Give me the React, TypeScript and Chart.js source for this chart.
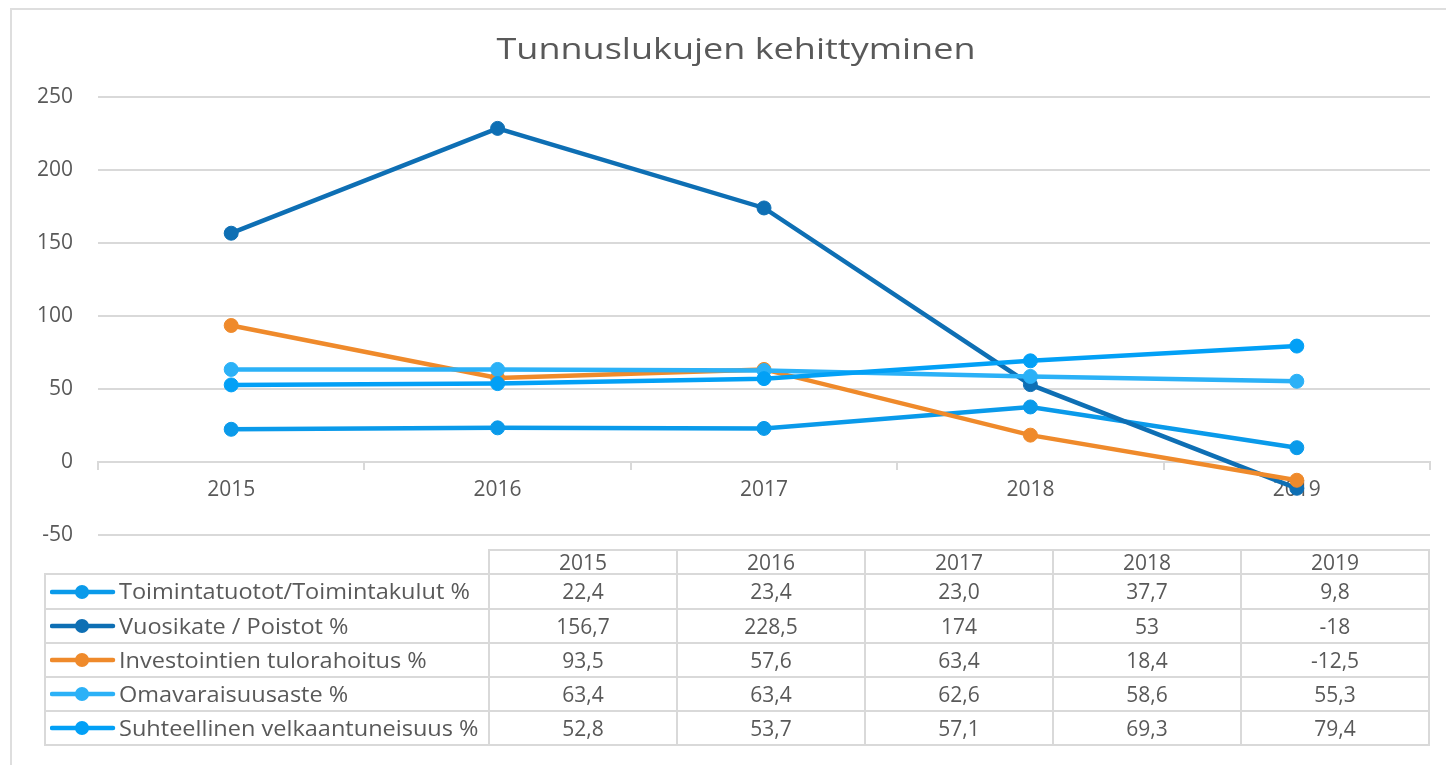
import React, { useEffect, useRef } from "react";
import { Chart, registerables } from "chart.js";

Chart.register(...registerables);

const TITLE = "Tunnuslukujen kehittyminen";
const YEARS = ["2015", "2016", "2017", "2018", "2019"];

const SERIES_NAMES = [
  "Toimintatuotot/Toimintakulut %",
  "Vuosikate / Poistot %",
  "Investointien tulorahoitus %",
  "Omavaraisuusaste %",
  "Suhteellinen velkaantuneisuus %",
];
const SERIES_COLORS = ["#0a9aea", "#0e6fb4", "#ef8a2b", "#2bb1f7", "#02a0f6"];

const toimintatuotot = [22.4, 23.4, 23.0, 37.7, 9.8];
const vuosikate = [156.7, 228.5, 174, 53, -18];
const investoinnit = [93.5, 57.6, 63.4, 18.4, -12.5];
const omavaraisuus = [63.4, 63.4, 62.6, 58.6, 55.3];
const velkaantuneisuus = [52.8, 53.7, 57.1, 69.3, 79.4];

const TABLE_TEXT = [
  ["22,4", "23,4", "23,0", "37,7", "9,8"],
  ["156,7", "228,5", "174", "53", "-18"],
  ["93,5", "57,6", "63,4", "18,4", "-12,5"],
  ["63,4", "63,4", "62,6", "58,6", "55,3"],
  ["52,8", "53,7", "57,1", "69,3", "79,4"],
];

const Y_MIN = -50;
const Y_MAX = 250;
const Y_STEP = 50;

const SERIES_VALUES = [toimintatuotot, vuosikate, investoinnit, omavaraisuus, velkaantuneisuus];

const GRID = "#d9d9d9";
const TEXT = "#595959";

export default function App() {
  const canvasRef = useRef<HTMLCanvasElement | null>(null);

  useEffect(() => {
    const canvas = canvasRef.current;
    if (!canvas) return;
    const n = SERIES_NAMES.length;
    const chart = new Chart(canvas, {
      type: "line",
      data: {
        labels: YEARS,
        datasets: SERIES_NAMES.map((name, i) => ({
          label: name,
          data: SERIES_VALUES[i],
          borderColor: SERIES_COLORS[i],
          backgroundColor: SERIES_COLORS[i],
          pointBackgroundColor: SERIES_COLORS[i],
          pointBorderColor: SERIES_COLORS[i],
          pointBorderWidth: 1,
          pointRadius: 7,
          borderWidth: 4.5,
          tension: 0,
          fill: false,
          order: n - i,
        })),
      },
      options: {
        responsive: false,
        animation: false,
        events: [],
        layout: { padding: { left: 0, right: 16, top: 97, bottom: 230 } },
        plugins: {
          legend: { display: false },
          tooltip: { enabled: false },
          title: { display: false },
        },
        scales: {
          x: {
            type: "category",
            offset: true,
            position: { y: 0 } as any,
            grid: {
              drawOnChartArea: false,
              drawTicks: true,
              offset: true,
              tickLength: 7,
              color: GRID,
              lineWidth: 2,
            },
            border: { display: true, color: GRID, width: 2 },
            ticks: {
              color: TEXT,
              font: { family: "'Open Sans', sans-serif", size: 21 },
              padding: 8,
              maxRotation: 0,
            },
          },
          y: {
            min: Y_MIN,
            max: Y_MAX,
            ticks: {
              stepSize: Y_STEP,
              color: TEXT,
              font: { family: "'Open Sans', sans-serif", size: 21 },
              padding: 25,
            },
            grid: { color: GRID, lineWidth: 2, drawTicks: false },
            border: { display: false },
            afterFit: (scale: any) => {
              scale.width = 98;
            },
          },
        },
      },
    });
    return () => chart.destroy();
  }, []);

  const hLines = [
    { y: 550, x1: 489, x2: 1429 },
    { y: 574, x1: 45, x2: 1429 },
    { y: 609, x1: 45, x2: 1429 },
    { y: 643, x1: 45, x2: 1429 },
    { y: 677, x1: 45, x2: 1429 },
    { y: 711, x1: 45, x2: 1429 },
    { y: 745, x1: 45, x2: 1429 },
  ];
  const vLines = [
    { x: 45, y1: 574, y2: 745 },
    { x: 489, y1: 550, y2: 745 },
    { x: 677, y1: 550, y2: 745 },
    { x: 865, y1: 550, y2: 745 },
    { x: 1053, y1: 550, y2: 745 },
    { x: 1241, y1: 550, y2: 745 },
    { x: 1429, y1: 550, y2: 745 },
  ];
  const colX = [489, 677, 865, 1053, 1241, 1429];
  const rowY = [574, 609, 643, 677, 711, 745];

  return (
    <div
      style={{
        position: "absolute",
        left: 0,
        top: 0,
        width: 1446,
        height: 765,
        overflow: "hidden",
        background: "#ffffff",
        fontFamily: "'Open Sans', sans-serif",
        color: TEXT,
      }}
    >
      <div
        style={{
          position: "absolute",
          left: 10,
          top: 8,
          width: 1460,
          height: 800,
          border: "2px solid #dedede",
          boxSizing: "border-box",
        }}
      />
      <canvas
        ref={canvasRef}
        width={1446}
        height={765}
        style={{ position: "absolute", left: 0, top: 0, width: 1446, height: 765 }}
      />
      <div
        style={{
          position: "absolute",
          left: 0,
          top: 28,
          width: 1472,
          textAlign: "center",
          fontSize: 30,
          lineHeight: "40px",
          whiteSpace: "nowrap",
          transform: "scaleX(1.2)",
          transformOrigin: "736px 0",
        }}
      >
        {TITLE}
      </div>
      {hLines.map((l, i) => (
        <div
          key={"h" + i}
          style={{
            position: "absolute",
            left: l.x1 - 1,
            top: l.y - 1,
            width: l.x2 - l.x1 + 2,
            height: 2,
            background: GRID,
          }}
        />
      ))}
      {vLines.map((l, i) => (
        <div
          key={"v" + i}
          style={{
            position: "absolute",
            left: l.x - 1,
            top: l.y1 - 1,
            width: 2,
            height: l.y2 - l.y1 + 2,
            background: GRID,
          }}
        />
      ))}
      {YEARS.map((yr, c) => (
        <div
          key={"hdr" + c}
          style={{
            position: "absolute",
            left: colX[c],
            top: 550,
            width: colX[c + 1] - colX[c],
            height: 24,
            lineHeight: "24px",
            textAlign: "center",
            fontSize: 21,
          }}
        >
          {yr}
        </div>
      ))}
      {SERIES_NAMES.map((name, r) => (
        <React.Fragment key={"row" + r}>
          <svg
            style={{ position: "absolute", left: 50, top: rowY[r] + (rowY[r + 1] - rowY[r]) / 2 - 8 }}
            width={66}
            height={16}
          >
            <line x1={2} y1={8} x2={63} y2={8} stroke={SERIES_COLORS[r]} strokeWidth={4.5} strokeLinecap="round" />
            <circle cx={32} cy={8} r={7} fill={SERIES_COLORS[r]} />
          </svg>
          <div
            style={{
              position: "absolute",
              left: 119,
              top: rowY[r],
              height: rowY[r + 1] - rowY[r],
              lineHeight: rowY[r + 1] - rowY[r] + "px",
              fontSize: 21,
              whiteSpace: "nowrap",
              transform: "scaleX(1.12)",
              transformOrigin: "0 0",
            }}
          >
            {name}
          </div>
          {TABLE_TEXT[r].map((v, c) => (
            <div
              key={"c" + r + "_" + c}
              style={{
                position: "absolute",
                left: colX[c],
                top: rowY[r],
                width: colX[c + 1] - colX[c],
                height: rowY[r + 1] - rowY[r],
                lineHeight: rowY[r + 1] - rowY[r] + "px",
                textAlign: "center",
                fontSize: 21,
              }}
            >
              {v}
            </div>
          ))}
        </React.Fragment>
      ))}
    </div>
  );
}
